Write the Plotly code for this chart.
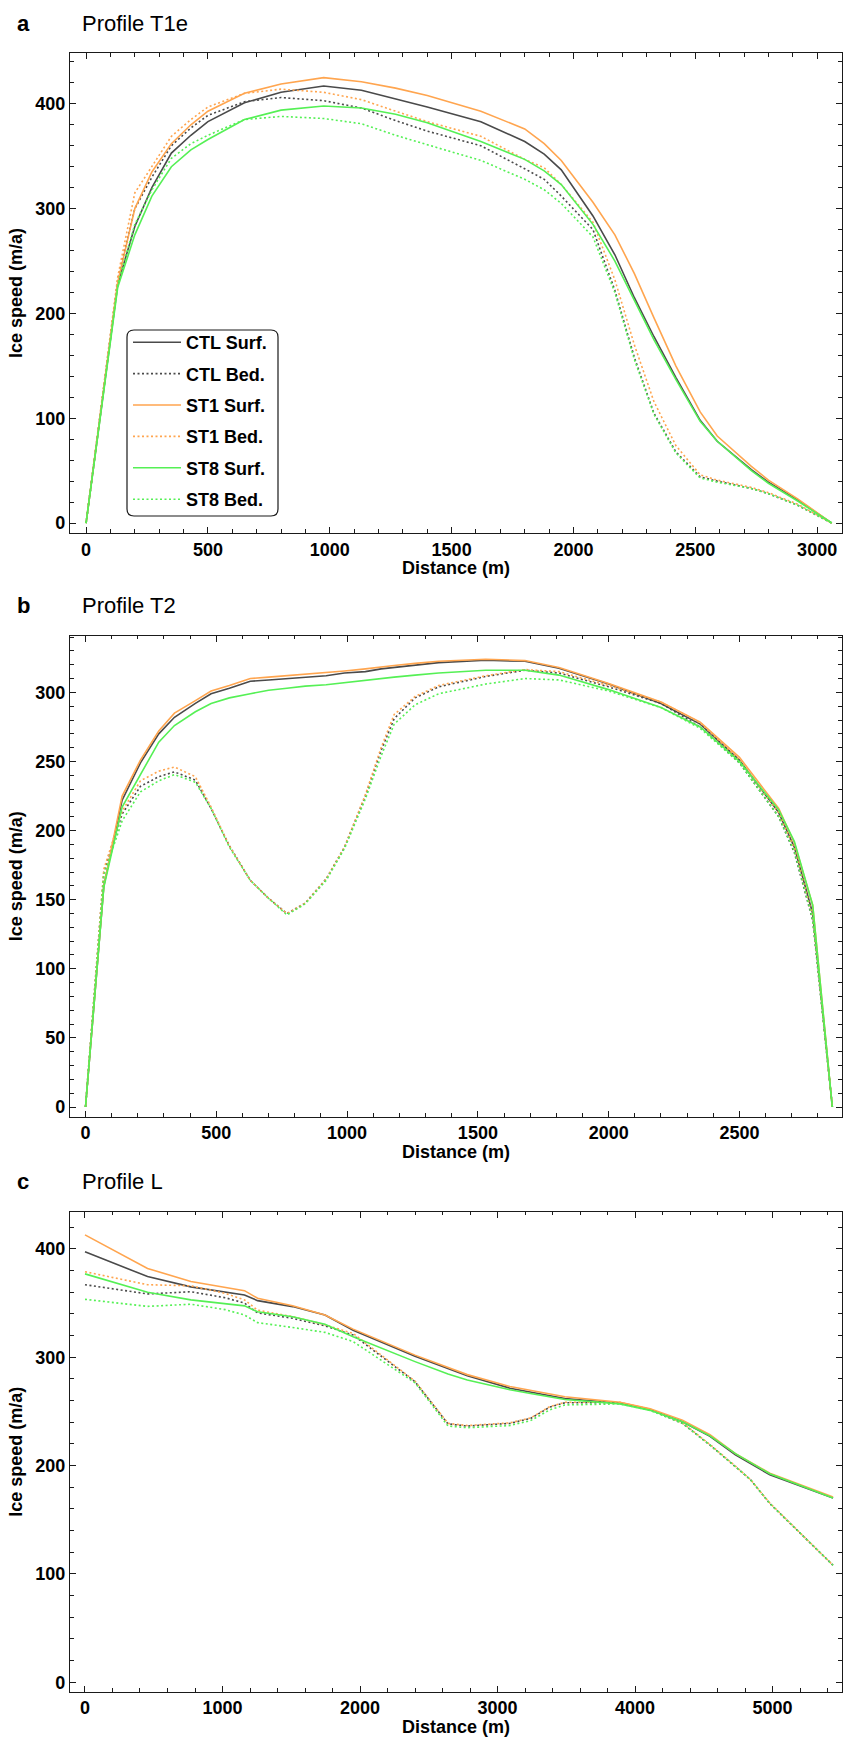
import plotly.graph_objects as go

W, H = 843, 1740

# ---------------- data ----------------
# Panel a: Profile T1e
dist_a = [0, 130, 200, 270, 350, 430, 500, 650, 800, 975, 1130, 1270, 1400, 1620, 1800, 1880,
          1950, 2080, 2170, 2250, 2330, 2420, 2520, 2590, 2730, 2800, 2920, 3060]
ctl_surf_a = [0, 228, 283, 320, 353, 370, 383, 401, 411, 417, 413, 405, 397, 383, 364, 352,
              337, 293, 256, 215, 178, 139, 98, 78, 51, 39, 22, 0]
ctl_bed_a = [0, 232, 300, 330, 360, 377, 389, 402, 406, 403, 396, 384, 374, 360, 338, 328,
             312, 280, 222, 158, 105, 68, 44, 40, 33, 28, 17, 0]
st1_surf_a = [0, 230, 300, 335, 362, 380, 393, 410, 419, 425, 421, 415, 408, 393, 376, 362,
              346, 306, 275, 238, 196, 150, 106, 83, 54, 41, 23, 0]
st1_bed_a = [0, 235, 315, 340, 369, 385, 397, 410, 414, 411, 404, 393, 383, 369, 347, 339,
             323, 287, 232, 170, 116, 74, 46, 41, 34, 29, 18, 0]
st8_surf_a = [0, 225, 275, 312, 340, 356, 366, 385, 394, 398, 396, 390, 382, 364, 347, 336,
              323, 285, 250, 212, 175, 137, 97, 78, 50, 38, 21, 0]
st8_bed_a = [0, 228, 285, 318, 348, 362, 370, 385, 388, 386, 381, 370, 361, 346, 328, 318,
             305, 273, 220, 156, 104, 67, 43, 39, 33, 28, 17, 0]

# Panel b: Profile T2
dist_b = [0, 70, 140, 210, 280, 340, 420, 480, 550, 630, 700, 770, 840, 920, 990, 1070, 1130,
          1180, 1260, 1350, 1530, 1680, 1810, 2000, 2200, 2350, 2500, 2650, 2710, 2780, 2855]
ctl_surf_b = [0, 160, 222, 249, 270, 282, 292, 299, 303, 308, 309, 310, 311, 312, 314, 315, 317,
              318, 320, 321.5, 323.2, 322.5, 317.5, 306, 292, 277, 251, 213, 188, 140, 0]
ctl_bed_b = [0, 170, 212, 232, 239, 242.5, 236.5, 216, 189, 164, 151, 140, 147.5, 165, 188, 225,
             258, 281, 296, 304, 311.5, 316, 314, 304, 292, 275, 249, 210, 184, 135, 0]
st1_surf_b = [0, 160, 225, 251, 272, 285, 294, 301, 305, 310, 311, 312, 313, 314, 315.5, 317,
              318.5, 319.5, 321, 322.5, 324, 323, 318, 306.5, 293, 278.5, 253, 216, 191, 146, 0]
st1_bed_b = [0, 172, 214, 236, 243, 246, 239, 217, 189, 164, 151, 140, 147.5, 165, 188, 226,
             260, 284, 297, 305, 312, 316.5, 315, 305, 293, 278, 251, 213, 187, 138, 0]
st8_surf_b = [0, 159, 217, 241, 264, 276, 286, 292, 296, 299, 301.5, 303, 304.5, 305.5, 307, 309,
              310, 311, 312.5, 314, 316, 316, 312.5, 302, 289, 275, 250, 215, 192, 146, 0]
st8_bed_b = [0, 168, 207, 228, 236, 240.5, 235, 216, 188, 164, 151, 139, 147, 164, 187, 223,
             254, 277, 291, 299, 306, 310, 309, 301, 289, 274, 249, 210, 185, 136, 0]

# Panel c: Profile L
dist_c = [0, 455, 770, 1020, 1160, 1255, 1510, 1745, 1950, 2400, 2640, 2780, 3090, 3240, 3380,
          3490, 3890, 4110, 4345, 4545, 4730, 4840, 4980, 5440]
ctl_surf_c = [397.5, 374.5, 365, 360.5, 357.5, 352.3, 346.8, 339, 325, 301, 289.5, 283, 271.5,
              268, 264.5, 262, 257.5, 251.5, 240.5, 227, 210, 202, 191.5, 170]
ctl_bed_c = [367, 358.5, 360.5, 355, 350, 341, 336, 329, 320.5, 277.5, 238.5, 236.5, 239, 243.5,
             254, 258, 258, 251.5, 239, 219, 199, 187, 165, 108]
st1_surf_c = [413, 382, 370, 364.5, 361.5, 354.5, 347.5, 339, 326, 302, 290.5, 284, 273, 269.5,
              266, 263.5, 258.5, 252.5, 242, 228.5, 211, 203, 193, 171]
st1_bed_c = [379, 367, 366, 359, 353, 343.5, 337.5, 330, 322, 278, 239, 237, 239.5, 244, 254.5,
             258.5, 258.5, 252, 239.5, 219.5, 199.5, 187, 165.5, 108]
st8_surf_c = [377, 360, 353, 349.5, 347.5, 342, 337.5, 330.5, 319, 296, 284.5, 279, 270, 266.5,
              263.5, 261, 257, 251, 240.5, 227.5, 211, 203, 192.5, 170]
st8_bed_c = [353.5, 347, 349, 344, 339, 332, 327.5, 323, 314.5, 276.5, 236.5, 235, 237, 241.5,
             251.5, 256, 257, 251, 239, 219, 199, 187, 165, 108]

series_names = ["CTL Surf.", "CTL Bed.", "ST1 Surf.", "ST1 Bed.", "ST8 Surf.", "ST8 Bed."]
panel_titles = ["Profile T1e", "Profile T2", "Profile L"]
panel_letters = ["a", "b", "c"]

# ---------------- styling ----------------
FONT = "Liberation Sans, Arial, Helvetica, sans-serif"
C_CTL, C_ST1, C_ST8 = "#4a4a4a", "#ffa54f", "#55f055"
styles = [(C_CTL, "solid"), (C_CTL, "2px,2.5px"), (C_ST1, "solid"), (C_ST1, "2px,2.5px"),
          (C_ST8, "solid"), (C_ST8, "2px,2.5px")]

panels = [
    dict(x=dist_a, ys=[ctl_surf_a, ctl_bed_a, st1_surf_a, st1_bed_a, st8_surf_a, st8_bed_a],
         top=53, bot=533, xr=[-66, 3102], yr=[-9.5, 448.5], xd=500, xm=100, yd=100, ym=20),
    dict(x=dist_b, ys=[ctl_surf_b, ctl_bed_b, st1_surf_b, st1_bed_b, st8_surf_b, st8_bed_b],
         top=635.7, bot=1116.7, xr=[-59.3, 2892], yr=[-7, 341], xd=500, xm=100, yd=50, ym=10),
    dict(x=dist_c, ys=[ctl_surf_c, ctl_bed_c, st1_surf_c, st1_bed_c, st8_surf_c, st8_bed_c],
         top=1211.7, bot=1691.7, xr=[-109, 5505], yr=[-8.7, 434.4], xd=1000, xm=200, yd=100, ym=20),
]
PL, PR = 70, 842

fig = go.Figure()
annotations = []


def px(x):
    return x / W


def py(y):
    return 1 - y / H


for i, p in enumerate(panels):
    sfx = "" if i == 0 else str(i + 1)
    for j, (name, yv) in enumerate(zip(series_names, p["ys"])):
        col, dash = styles[j]
        fig.add_trace(go.Scatter(
            x=p["x"], y=yv, mode="lines", name=name,
            line=dict(color=col, width=1.6, dash=dash),
            xaxis="x" + sfx, yaxis="y" + sfx,
            showlegend=(i == 0), legendgroup=name,
        ))
    axcommon = dict(showgrid=False, zeroline=False, showline=True, linecolor="#1a1a1a",
                    linewidth=1.2, mirror="ticks", ticks="inside", ticklen=6, tickwidth=1,
                    tickcolor="#1a1a1a",
                    tickfont=dict(family=FONT, size=18, color="black", weight="bold"))
    fig.update_layout(**{
        "xaxis" + sfx: dict(domain=[px(PL), px(PR)], range=p["xr"], anchor="y" + sfx,
                            dtick=p["xd"], tick0=0,
                            minor=dict(dtick=p["xm"], tick0=0, ticks="inside", ticklen=3.5,
                                       tickcolor="#1a1a1a"), **axcommon),
        "yaxis" + sfx: dict(domain=[py(p["bot"]), py(p["top"])], range=p["yr"], anchor="x" + sfx,
                            dtick=p["yd"], tick0=0,
                            minor=dict(dtick=p["ym"], tick0=0, ticks="inside", ticklen=3.5,
                                       tickcolor="#1a1a1a"), **axcommon),
    })
    title_y = [23, 606, 1181][i]
    annotations.append(dict(x=px(15), y=py(title_y), xref="paper", yref="paper",
                            text="<b>%s</b>" % panel_letters[i],
                            showarrow=False, xanchor="left", yanchor="middle",
                            font=dict(family=FONT, size=22, color="black")))
    annotations.append(dict(x=px(80), y=py(title_y), xref="paper", yref="paper",
                            text=panel_titles[i],
                            showarrow=False, xanchor="left", yanchor="middle",
                            font=dict(family=FONT, size=22, color="black")))
    annotations.append(dict(x=px((PL + PR) / 2), y=py(p["bot"] + 35), xref="paper", yref="paper",
                            text="<b>Distance (m)</b>", showarrow=False, xanchor="center",
                            yanchor="middle", font=dict(family=FONT, size=18, color="black")))
    annotations.append(dict(x=px(16), y=py((p["top"] + p["bot"]) / 2), xref="paper", yref="paper",
                            text="<b>Ice speed (m/a)</b>", showarrow=False, textangle=-90,
                            xanchor="center", yanchor="middle",
                            font=dict(family=FONT, size=18, color="black")))


def rounded_rect(x0, y0, x1, y1, r):
    pts = [
        "M %f,%f" % (px(x0 + r), py(y0)),
        "L %f,%f" % (px(x1 - r), py(y0)),
        "Q %f,%f %f,%f" % (px(x1), py(y0), px(x1), py(y0 + r)),
        "L %f,%f" % (px(x1), py(y1 - r)),
        "Q %f,%f %f,%f" % (px(x1), py(y1), px(x1 - r), py(y1)),
        "L %f,%f" % (px(x0 + r), py(y1)),
        "Q %f,%f %f,%f" % (px(x0), py(y1), px(x0), py(y1 - r)),
        "L %f,%f" % (px(x0), py(y0 + r)),
        "Q %f,%f %f,%f" % (px(x0), py(y0), px(x0 + r), py(y0)),
        "Z",
    ]
    return " ".join(pts)


fig.update_layout(
    width=W, height=H,
    margin=dict(l=0, r=0, t=0, b=0),
    paper_bgcolor="white", plot_bgcolor="white",
    annotations=annotations,
    shapes=[dict(type="path", xref="paper", yref="paper", path=rounded_rect(127, 330, 278, 516, 7),
                 line=dict(color="#1a1a1a", width=1.2), fillcolor="rgba(255,255,255,0)", layer="above")],
    legend=dict(x=px(128), y=py(324), xanchor="left", yanchor="top",
                bgcolor="rgba(0,0,0,0)", borderwidth=0, tracegroupgap=5,
                itemwidth=48,
                font=dict(family=FONT, size=18, color="black", weight="bold")),
)

fig.write_html("out.html")
